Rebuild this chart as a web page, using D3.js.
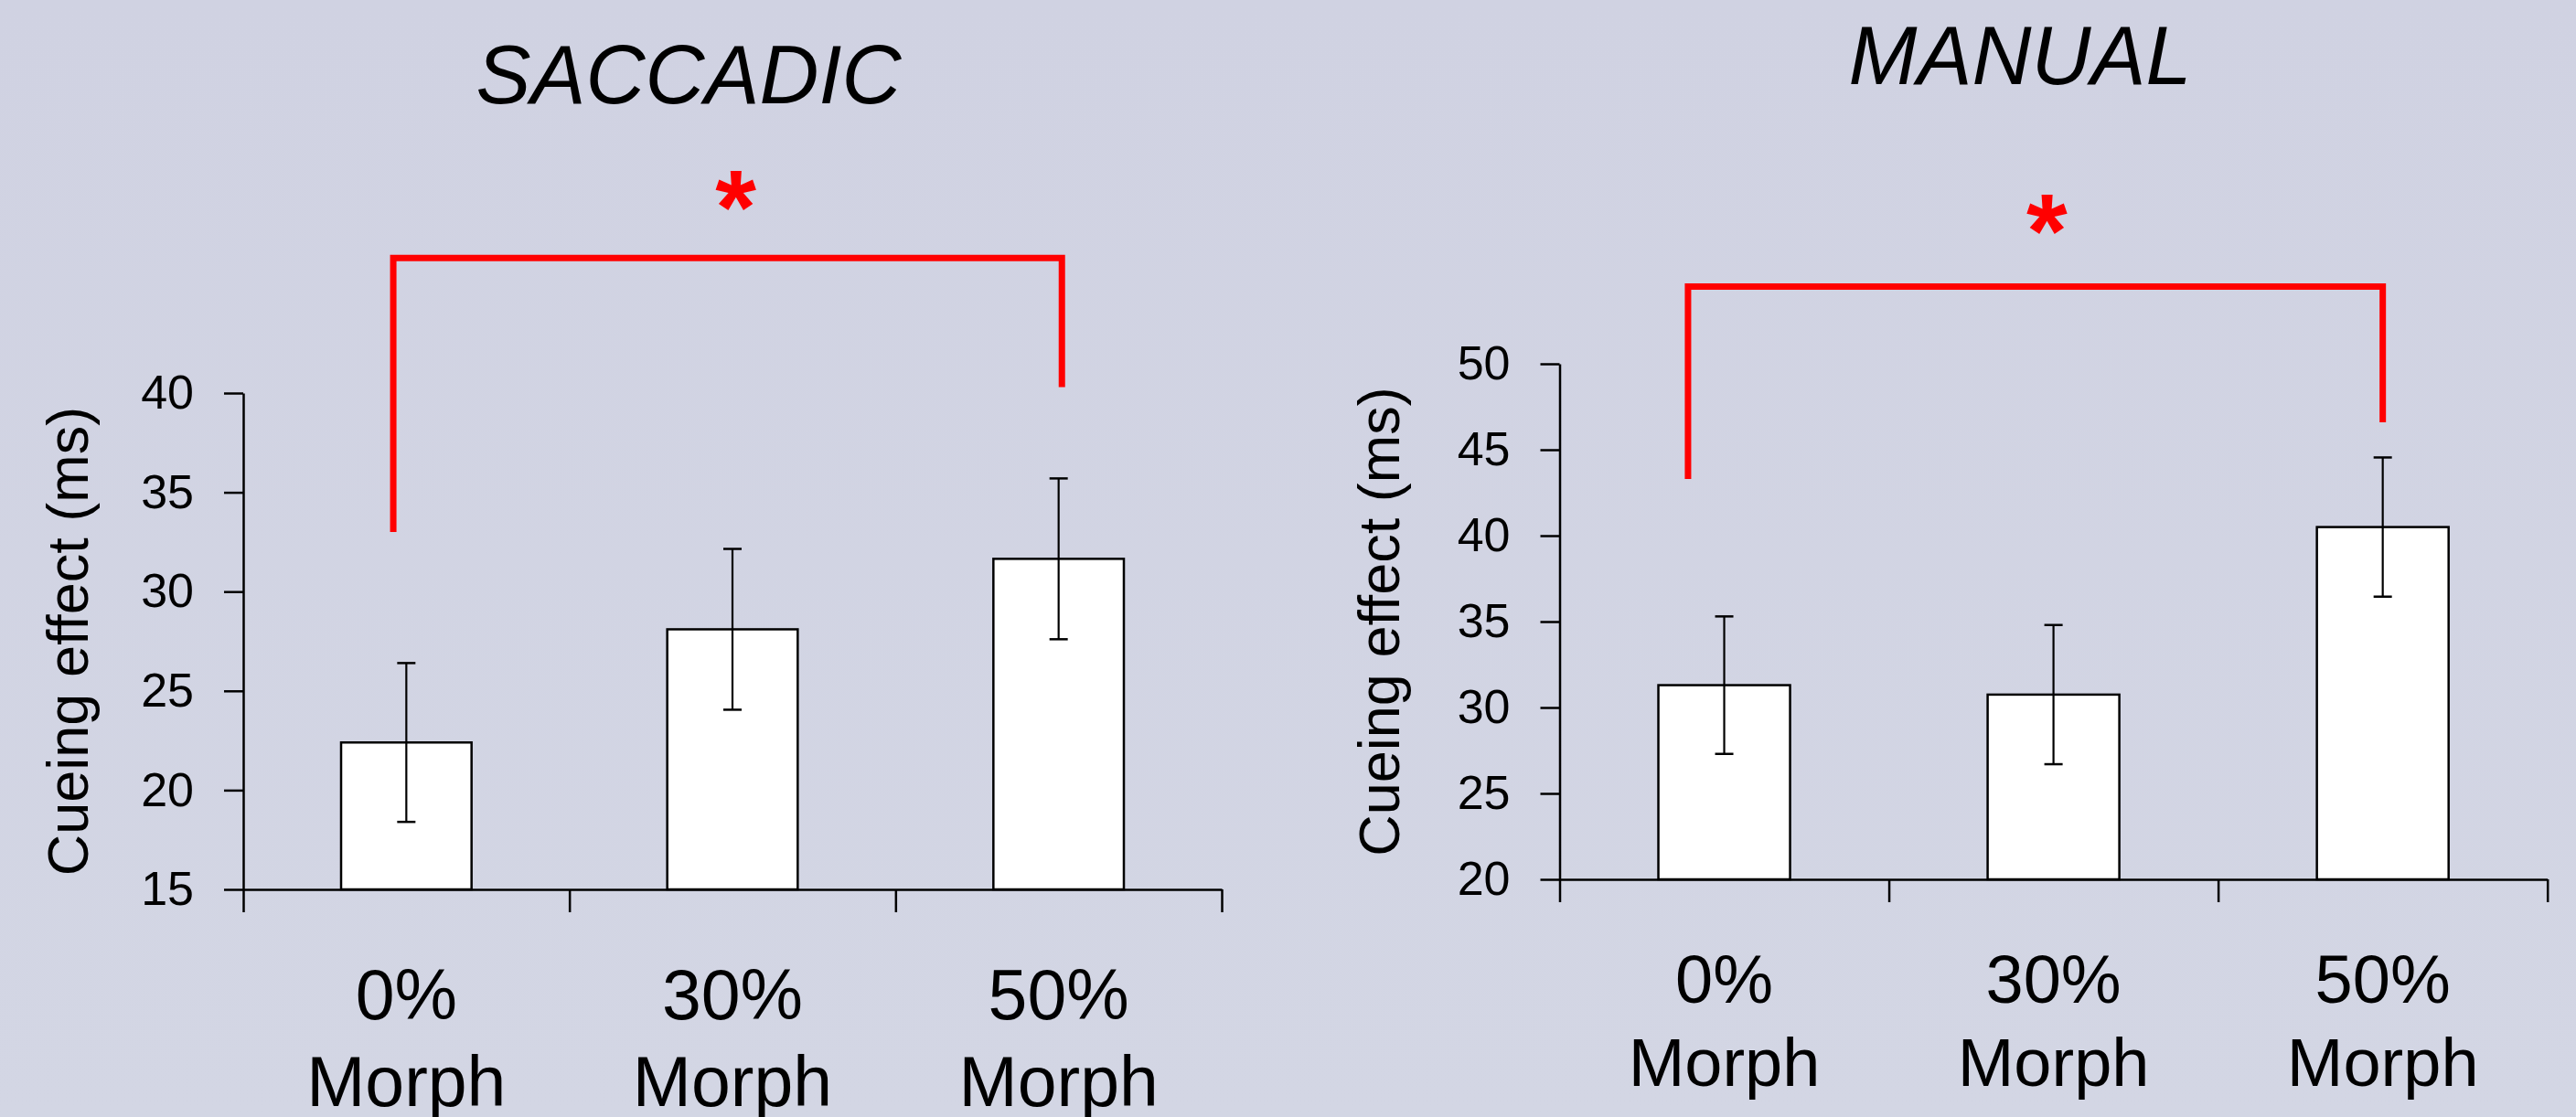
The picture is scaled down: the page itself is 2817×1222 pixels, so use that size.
<!doctype html>
<html>
<head>
<meta charset="utf-8">
<style>
    html, body { margin: 0; padding: 0; }
    body { background: #d1d3e2; }
    svg { display: block; font-family: "Liberation Sans", Arial, sans-serif; }
</style>
<script src="https://d3js.org/d3.v7.min.js"></script>
</head>
<body>
<svg width="2817" height="1222"></svg>
<script>

// ---- data ----
var categories = ["0%|Morph", "30%|Morph", "50%|Morph"];

var saccadicMeans  = [22.4, 28.1, 31.65];
var saccadicErrors = [4.0, 4.05, 4.05];
var saccadicTicks  = [15, 20, 25, 30, 35, 40];
// bracket: [left foot, top, right foot] in ms; x in category index units
var saccadicBracketY = [33.0, 46.8, 40.3];
var saccadicBracketX = [-0.04, 2.01];
var saccadicStar     = [1.01, 50.2];

var manualMeans  = [31.3, 30.75, 40.5];
var manualErrors = [4.0, 4.05, 4.05];
var manualTicks  = [20, 25, 30, 35, 40, 45, 50];
var manualBracketY = [43.3, 54.5, 46.6];
var manualBracketX = [-0.11, 2.0];
var manualStar     = [0.98, 58.7];

var svg = d3.select("svg");

var grad = svg.append("defs").append("linearGradient")
    .attr("id", "bg").attr("x1", 0).attr("y1", 0).attr("x2", 0).attr("y2", 1);
grad.append("stop").attr("offset", "0%").attr("stop-color", "#d0d2e2");
grad.append("stop").attr("offset", "100%").attr("stop-color", "#d3d6e4");
svg.append("rect").attr("width", 2817).attr("height", 1222).attr("fill", "url(#bg)");

function drawPanel(p) {
    var g = svg.append("g");

    var y = d3.scaleLinear()
        .domain([p.ticks[0], p.ticks[p.ticks.length - 1]])
        .range([p.bottom, p.top]);
    var xBand = d3.scaleBand().domain(categories).range([p.left, p.right]).padding(0);
    var xIdx = d3.scaleLinear().domain([-0.5, 2.5]).range([p.left, p.right]);
    var xEdge = d3.scaleLinear().domain([0, 3]).range([p.left, p.right]);

    // title
    g.append("text")
        .attr("x", p.titleX).attr("y", p.titleY)
        .attr("text-anchor", "middle")
        .attr("font-size", "90px")
        .attr("font-style", "italic")
        .text(p.title);

    // bars
    var bw = xBand.bandwidth() * 0.4;
    g.selectAll(".bar")
        .data(p.means)
        .enter().append("rect")
        .attr("x", function(d, i) { return xBand(categories[i]) + (xBand.bandwidth() - bw) / 2; })
        .attr("y", function(d) { return y(d); })
        .attr("width", bw)
        .attr("height", function(d) { return p.bottom - y(d); })
        .attr("fill", "#ffffff")
        .attr("stroke", "#000")
        .attr("stroke-width", 2.5);

    // error bars
    var eb = g.selectAll(".err")
        .data(p.means)
        .enter().append("g");
    eb.append("line")
        .attr("x1", function(d, i) { return xIdx(i); })
        .attr("x2", function(d, i) { return xIdx(i); })
        .attr("y1", function(d, i) { return y(d - p.errors[i]); })
        .attr("y2", function(d, i) { return y(d + p.errors[i]); })
        .attr("stroke", "#000").attr("stroke-width", 2.2);
    [-1, 1].forEach(function(s) {
        eb.append("line")
            .attr("x1", function(d, i) { return xIdx(i) - 10; })
            .attr("x2", function(d, i) { return xIdx(i) + 10; })
            .attr("y1", function(d, i) { return y(d + s * p.errors[i]); })
            .attr("y2", function(d, i) { return y(d + s * p.errors[i]); })
            .attr("stroke", "#000").attr("stroke-width", 2.5);
    });

    // y axis
    var ya = g.append("g")
        .attr("transform", "translate(" + p.left + ",0)")
        .call(d3.axisLeft(y).tickValues(p.ticks).tickSize(21).tickSizeOuter(0).tickPadding(33));
    ya.selectAll("path, line").attr("stroke", "#000").attr("stroke-width", 2.5);
    ya.selectAll("text").attr("font-size", "52px").attr("fill", "#000")
        .attr("font-family", "Liberation Sans, Arial, sans-serif");

    // x axis, ticks at category edges
    var xa = g.append("g")
        .attr("transform", "translate(0," + p.bottom + ")")
        .call(d3.axisBottom(xEdge).tickValues([0, 1, 2, 3]).tickSize(25).tickSizeOuter(0).tickFormat(""));
    xa.selectAll("path, line").attr("stroke", "#000").attr("stroke-width", 2.5);

    // category labels
    var lab = g.selectAll(".cat")
        .data(categories)
        .enter().append("text")
        .attr("text-anchor", "middle")
        .attr("font-size", p.catSize + "px");
    lab.append("tspan")
        .attr("x", function(d, i) { return xIdx(i); })
        .attr("y", p.catY1)
        .text(function(d) { return d.split("|")[0]; });
    lab.append("tspan")
        .attr("x", function(d, i) { return xIdx(i); })
        .attr("y", p.catY2)
        .text(function(d) { return d.split("|")[1]; });

    // y label
    g.append("text")
        .attr("transform", "translate(" + p.labelX + "," + (p.top + p.bottom) / 2 + ") rotate(-90)")
        .attr("text-anchor", "middle")
        .attr("font-size", "63px")
        .text("Cueing effect (ms)");

    // significance bracket
    var bx = p.bracketX, by = p.bracketY;
    g.append("path")
        .attr("d", d3.line()([
            [xIdx(bx[0]), y(by[0])],
            [xIdx(bx[0]), y(by[1])],
            [xIdx(bx[1]), y(by[1])],
            [xIdx(bx[1]), y(by[2])]
        ]))
        .attr("fill", "none")
        .attr("stroke", "#ff0000")
        .attr("stroke-width", 7)
        .attr("stroke-linejoin", "miter");

    g.append("text")
        .attr("x", xIdx(p.star[0]))
        .attr("y", y(p.star[1]))
        .attr("dy", "0.5em")
        .attr("text-anchor", "middle")
        .attr("font-size", "115px")
        .attr("font-weight", "bold")
        .attr("fill", "#ff0000")
        .text("*");
}

drawPanel({
    title: "SACCADIC", titleX: 753, titleY: 113,
    means: saccadicMeans, errors: saccadicErrors, ticks: saccadicTicks,
    bracketX: saccadicBracketX, bracketY: saccadicBracketY, star: saccadicStar,
    left: 266, right: 1336, top: 430, bottom: 973,
    labelX: 96, catSize: 77, catY1: 1115, catY2: 1210
});

drawPanel({
    title: "MANUAL", titleX: 2209, titleY: 92,
    means: manualMeans, errors: manualErrors, ticks: manualTicks,
    bracketX: manualBracketX, bracketY: manualBracketY, star: manualStar,
    left: 1705.5, right: 2785.7, top: 398, bottom: 962,
    labelX: 1530, catSize: 74, catY1: 1097, catY2: 1188
});

</script>
</body>
</html>
